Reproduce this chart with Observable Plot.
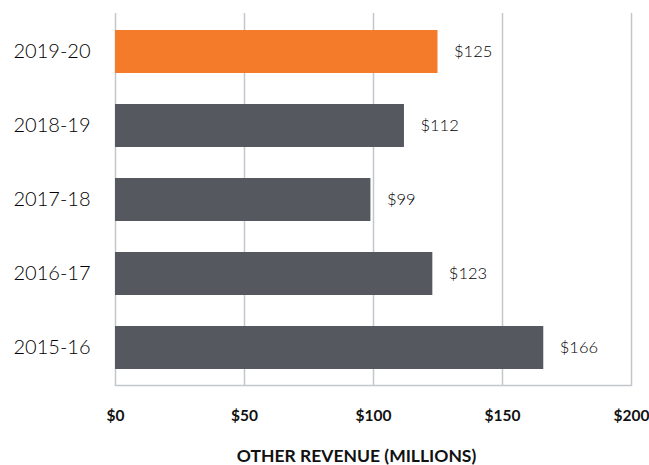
<!DOCTYPE html>
<html><head><meta charset="utf-8">
<script src="https://cdn.jsdelivr.net/npm/d3@7"></script>
<script src="https://cdn.jsdelivr.net/npm/@observablehq/plot@0.6"></script>
<style>body{margin:0;background:#fff;}</style>
</head><body><div id="chart"></div>
<script>
const seasons = ["2019-20", "2018-19", "2017-18", "2016-17", "2015-16"];
const revenue = [125, 112, 99, 123, 166];
const highlightSeason = "2019-20";
const xTicks = [0, 50, 100, 150, 200];
const axisTitle = "OTHER REVENUE (MILLIONS)";

const data = seasons.map((s, i) => ({season: s, value: revenue[i]}));
const fmt = d => "$" + d;

const chart = Plot.plot({
  width: 649,
  height: 465,
  marginLeft: 115,
  marginRight: 18,
  marginTop: 13,
  marginBottom: 80,
  style: {fontFamily: "Lato, sans-serif", background: "#fff"},
  x: {domain: [0, 200], label: null},
  y: {domain: seasons, paddingInner: 0.42, paddingOuter: 0.21, label: null},
  marks: [
    Plot.gridX(xTicks, {stroke: "#c3c7cc", strokeOpacity: 1, strokeWidth: 1.5}),
    Plot.frame({anchor: "bottom", stroke: "#c3c7cc", strokeWidth: 1.5}),
    Plot.barX(data, {y: "season", x: "value", fill: d => d.season === highlightSeason ? "#f47b2a" : "#55585f"}),
    Plot.text(data, {y: "season", x: "value", text: d => fmt(d.value), textAnchor: "start", dx: 16, fontSize: 16.5, fontWeight: 300, fill: "#000"}),
    Plot.axisX(xTicks, {tickSize: 0, tickPadding: 24, fontWeight: "bold", fontSize: 15.5, fill: "#111", tickFormat: fmt, label: null}),
    Plot.axisY({tickSize: 0, tickPadding: 25, fontSize: 20, fontWeight: 300, fill: "#000", label: null}),
    Plot.text([axisTitle], {frameAnchor: "bottom", dy: 76, dx: -17, fontWeight: "bold", fontSize: 17.5, fill: "#111"})
  ]
});
document.getElementById("chart").append(chart);
</script></body></html>
